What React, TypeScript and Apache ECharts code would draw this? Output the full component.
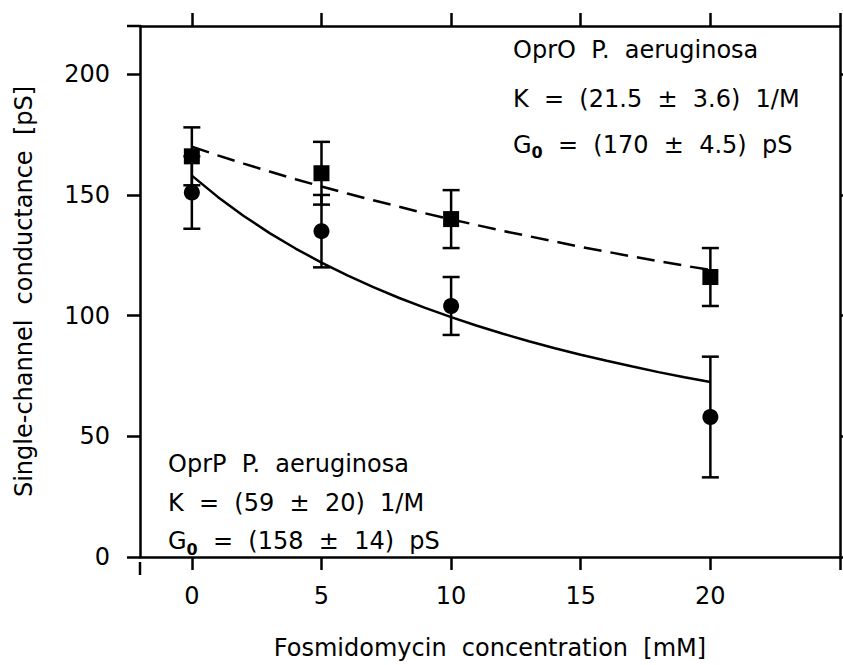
import React, { useEffect, useRef } from 'react';
import * as echarts from 'echarts';

// Measured points
const concentrations = [0, 5, 10, 20];
const oprOMean = [166, 159, 140, 116];
const oprOErr = [12, 13, 12, 12];
const oprPMean = [151, 135, 104, 58];
const oprPErr = [15, 15, 12, 25];

// Fitted curves
const fitX = [0, 1, 2, 3, 4, 5, 6, 7, 8, 9, 10, 11, 12, 13, 14, 15, 16, 17, 18, 19, 20];
const oprOFit = [170, 166.4, 163.0, 159.7, 156.5, 153.5, 150.6, 147.8, 145.1, 142.4, 139.9, 137.5, 135.1, 132.9, 130.7, 128.5, 126.5, 124.5, 122.6, 120.7, 118.9];
const oprPFit = [158, 149.2, 141.3, 134.2, 127.8, 122.0, 116.7, 111.8, 107.3, 103.2, 99.4, 95.8, 92.5, 89.4, 86.5, 83.8, 81.3, 78.9, 76.6, 74.5, 72.5];

const xTicks = [0, 5, 10, 15, 20, 25];
const xLabels = [0, 5, 10, 15, 20];
const yTicks = [0, 50, 100, 150, 200];

const FONT = 'DejaVu Sans';

export default function App() {
  const ref = useRef<HTMLDivElement>(null);
  useEffect(() => {
    if (!ref.current) return;
    const chart = echarts.init(ref.current, undefined, { renderer: 'svg' });
    const axisLine = { show: true, onZero: false, lineStyle: { color: '#000', width: 2.5 } };
    const tick = (vals: number[]) => ({ show: true, inside: false, length: 13, customValues: vals, lineStyle: { color: '#000', width: 2.5 } });
    const label = { color: '#000', fontFamily: FONT, fontSize: 24 };

    const errData = (mean: number[], err: number[]) =>
      concentrations.map((x, i) => [x, mean[i] - err[i], mean[i] + err[i]]);

    const renderErr = (params: any, api: any) => {
      const x = api.value(0);
      const lo = api.coord([x, api.value(1)]);
      const hi = api.coord([x, api.value(2)]);
      const hw = 8.5;
      const st = { stroke: '#000', lineWidth: 2.5 };
      return {
        type: 'group',
        children: [
          { type: 'line', shape: { x1: lo[0], y1: lo[1], x2: hi[0], y2: hi[1] }, style: st },
          { type: 'line', shape: { x1: lo[0] - hw, y1: lo[1], x2: lo[0] + hw, y2: lo[1] }, style: st },
          { type: 'line', shape: { x1: hi[0] - hw, y1: hi[1], x2: hi[0] + hw, y2: hi[1] }, style: st },
        ],
      };
    };

    const txt = (x: number, y: number, text: string) => ({
      type: 'text', x, y,
      style: { text, fill: '#000', fontFamily: FONT, fontSize: 24, verticalAlign: 'middle', align: 'left' },
    });
    const g0 = (x: number, y: number, rest: string) => ({
      type: 'text', x, y,
      style: {
        text: '{g|G}{s|0}{t|' + rest + '}',
        verticalAlign: 'middle', align: 'left',
        rich: {
          g: { fill: '#000', fontFamily: FONT, fontSize: 24, lineHeight: 32 },
          s: { fill: '#000', fontFamily: FONT, fontSize: 16, fontWeight: 'bold', lineHeight: 15, verticalAlign: 'bottom' },
          t: { fill: '#000', fontFamily: FONT, fontSize: 24, lineHeight: 32 },
        },
      },
    });

    chart.setOption({
      animation: false,
      backgroundColor: '#fff',
      grid: { left: 140, top: 26, right: 3, bottom: 103, containLabel: false },
      xAxis: [
        {
          type: 'value', position: 'bottom', min: -2, max: 25,
          axisLine, axisTick: tick(xTicks), splitLine: { show: false },
          axisLabel: { ...label, margin: 27, customValues: xLabels },
          name: 'Fosmidomycin  concentration  [mM]', nameLocation: 'middle', nameGap: 79,
          nameTextStyle: { color: '#000', fontFamily: FONT, fontSize: 24 },
        },
        {
          type: 'value', position: 'top', min: -2, max: 25,
          axisLine, axisTick: tick(xTicks), splitLine: { show: false },
          axisLabel: { show: false },
        },
      ],
      yAxis: [
        {
          type: 'value', position: 'left', min: 0, max: 220,
          axisLine, axisTick: tick(yTicks), splitLine: { show: false },
          axisLabel: { ...label, margin: 30, customValues: yTicks },
          name: 'Single-channel  conductance  [pS]', nameLocation: 'middle', nameGap: 104, nameRotate: 90,
          nameTextStyle: { color: '#000', fontFamily: FONT, fontSize: 24 },
        },
        {
          type: 'value', position: 'right', min: 0, max: 220,
          axisLine, axisTick: tick(yTicks), splitLine: { show: false },
          axisLabel: { show: false },
        },
      ],
      series: [
        {
          type: 'line', xAxisIndex: 0, yAxisIndex: 0, showSymbol: false, symbol: 'none',
          data: fitX.map((x, i) => [x, oprOFit[i]]),
          lineStyle: { color: '#000', width: 2.5, type: [18, 9] },
        },
        {
          type: 'line', xAxisIndex: 0, yAxisIndex: 0, showSymbol: false, symbol: 'none',
          data: fitX.map((x, i) => [x, oprPFit[i]]),
          lineStyle: { color: '#000', width: 2.5 },
        },
        {
          type: 'custom', xAxisIndex: 0, yAxisIndex: 0, renderItem: renderErr,
          encode: { x: 0, y: [1, 2] }, data: errData(oprPMean, oprPErr),
        },
        {
          type: 'custom', xAxisIndex: 0, yAxisIndex: 0, renderItem: renderErr,
          encode: { x: 0, y: [1, 2] }, data: errData(oprOMean, oprOErr),
        },
        {
          type: 'scatter', xAxisIndex: 0, yAxisIndex: 0, symbol: 'circle', symbolSize: 16,
          itemStyle: { color: '#000', opacity: 1 },
          data: concentrations.map((x, i) => [x, oprPMean[i]]),
        },
        {
          type: 'scatter', xAxisIndex: 0, yAxisIndex: 0, symbol: 'rect', symbolSize: 16,
          itemStyle: { color: '#000', opacity: 1 },
          data: concentrations.map((x, i) => [x, oprOMean[i]]),
        },
      ],
      graphic: [
        { type: 'line', shape: { x1: 127, y1: 26, x2: 140, y2: 26 }, style: { stroke: '#000', lineWidth: 2.5 } },
        { type: 'line', shape: { x1: 140, y1: 562, x2: 140, y2: 575 }, style: { stroke: '#000', lineWidth: 2.5 } },
        txt(513, 49.5, 'OprO  P.  aeruginosa'),
        txt(513, 99, 'K  =  (21.5  ±  3.6)  1/M'),
        g0(513, 144.5, '  =  (170  ±  4.5)  pS'),
        txt(168, 463.5, 'OprP  P.  aeruginosa'),
        txt(168, 502.8, 'K  =  (59  ±  20)  1/M'),
        g0(168, 541, '  =  (158  ±  14)  pS'),
      ],
    });
    return () => chart.dispose();
  }, []);
  return <div ref={ref} style={{ position: 'fixed', left: 0, top: 0, width: 843, height: 665 }} />;
}
